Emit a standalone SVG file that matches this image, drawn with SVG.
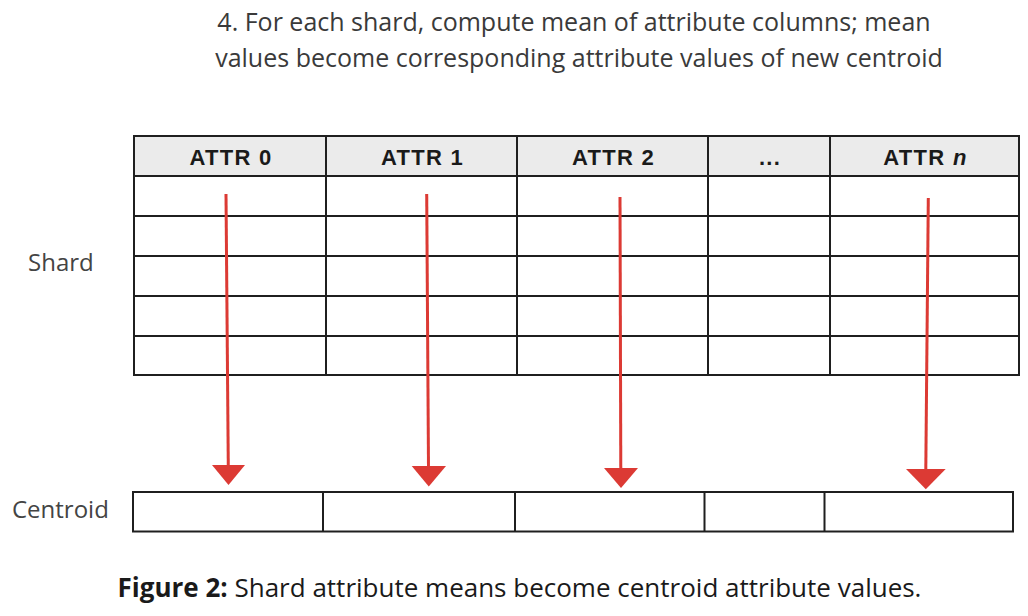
<svg xmlns="http://www.w3.org/2000/svg" width="1028" height="616" viewBox="0 0 1028 616">
<style>
.title{font-family:"Open Sans",Lato,sans-serif;font-size:25px;fill:#3a3a3a;text-anchor:middle}
.label{font-family:"Open Sans",Lato,sans-serif;font-size:24px;fill:#444}
.cap{font-family:"Open Sans",Lato,sans-serif;font-size:26px;fill:#1a1a1a;text-anchor:middle}
.hdr{font-family:"Liberation Sans",Arial,sans-serif;font-size:22px;font-weight:bold;fill:#1a1a1a;text-anchor:middle;letter-spacing:1.3px}
.grid{fill:none;stroke:#1f1f1f;stroke-width:2}
.hfill{fill:#ebebeb;stroke:none}
.arr{stroke:#dc3a34;stroke-width:3;fill:none}
.head{fill:#dc3a34;stroke:none}
</style>
<rect width="1028" height="616" fill="#fff"/>
<g id="title">
<text class="title" x="574" y="31">4. For each shard, compute mean of attribute columns; mean</text>
<text class="title" x="579" y="67">values become corresponding attribute values of new centroid</text>
</g>
<g id="shard-table">
<rect class="hfill" x="134" y="136" width="885" height="40"/>
<rect class="grid" x="134" y="136" width="885" height="239"/>
<path class="grid" d="M134 176H1019M134 216H1019M134 256H1019M134 296H1019M134 336H1019M326 136V375M517 136V375M708 136V375M830 136V375"/>
<text class="hdr" x="231" y="165">ATTR 0</text>
<text class="hdr" x="422.5" y="165">ATTR 1</text>
<text class="hdr" x="613.5" y="165">ATTR 2</text>
<text class="hdr" x="770" y="165">...</text>
<text class="hdr" x="925.5" y="165">ATTR <tspan font-style="italic">n</tspan></text>
</g>
<g id="shard-label"><text class="label" x="28" y="271">Shard</text></g>
<g id="centroid-row">
<rect class="grid" x="133" y="492" width="880" height="39.5"/>
<path class="grid" d="M323 492V531.5M515 492V531.5M704.5 492V531.5M824.5 492V531.5"/>
</g>
<g id="centroid-label"><text class="label" x="12" y="518">Centroid</text></g>
<g id="connectors">
<line class="arr" x1="226" y1="194" x2="228.3" y2="468"/>
<polygon class="head" points="212,465 245,465 228.5,485"/>
<line class="arr" x1="426.7" y1="194" x2="428.5" y2="468"/>
<polygon class="head" points="411.7,466 446,466 428.8,486.5"/>
<line class="arr" x1="620" y1="197" x2="620.8" y2="469"/>
<polygon class="head" points="604,468 638,468 621,488"/>
<line class="arr" x1="928.3" y1="198" x2="925.8" y2="470"/>
<polygon class="head" points="906,469 945.7,469 925.8,489.3"/>
</g>
<g id="caption">
<text class="cap" x="519.5" y="597"><tspan font-weight="bold">Figure 2:</tspan> Shard attribute means become centroid attribute values.</text>
</g>
</svg>
